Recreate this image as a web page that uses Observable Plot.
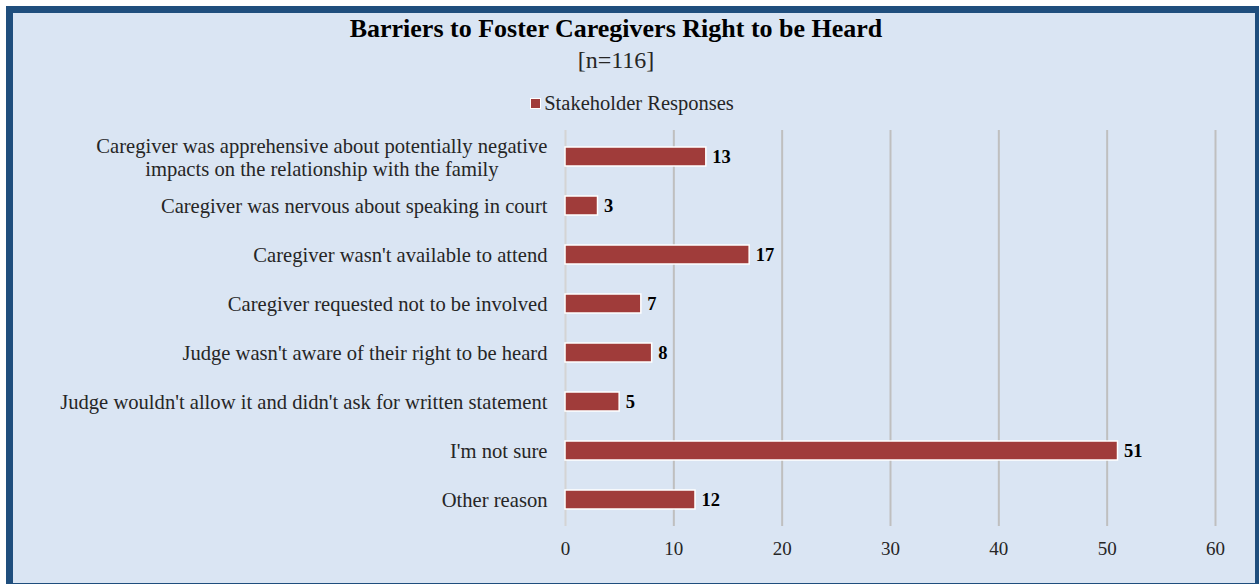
<!DOCTYPE html>
<html>
<head>
<meta charset="utf-8">
<script src="https://cdn.jsdelivr.net/npm/d3@7"></script>
<script src="https://cdn.jsdelivr.net/npm/@observablehq/plot@0.6"></script>
<style>
  html, body { margin: 0; padding: 0; background: #ffffff; overflow: hidden; width: 1259px; height: 584px; }
  #frame {
    position: absolute; left: 6px; top: 6px; width: 1242px; height: 570px;
    border: 7px solid #1f4e7d; background: #dae5f3;
    font-family: "Liberation Serif", "DejaVu Serif", serif; color: #1a1a1a;
  }
  .title { position: absolute; left: 0; width: 1206px; top: 1px; height: 30px; line-height: 30px; text-align: center; font-weight: bold; font-size: 26px; color: #000; }
  .subtitle { position: absolute; left: 0; width: 1206px; top: 33px; height: 28px; line-height: 28px; text-align: center; font-size: 24px; color: #262626; }
  .legend { position: absolute; left: 0; width: 1238px; top: 78px; height: 24px; display: flex; justify-content: center; align-items: center; font-size: 20.5px; color: #262626; }
  .legend .sw { width: 9px; height: 9px; background: #a03c3a; border: 1px solid #fff; margin-right: 3px; }
  #chart { position: absolute; left: 0; top: 107px; }
</style>
</head>
<body>
<div id="frame">
  <div class="title">Barriers to Foster Caregivers Right to be Heard</div>
  <div class="subtitle">[n=116]</div>
  <div class="legend"><span class="sw"></span><span>Stakeholder Responses</span></div>
  <div id="chart"></div>
</div>
<script>
const categories = [
  "Caregiver was apprehensive about potentially negative\nimpacts on the relationship with the family",
  "Caregiver was nervous about speaking in court",
  "Caregiver wasn't available to attend",
  "Caregiver requested not to be involved",
  "Judge wasn't aware of their right to be heard",
  "Judge wouldn't allow it and didn't ask for written statement",
  "I'm not sure",
  "Other reason"
];
const values = [13, 3, 17, 7, 8, 5, 51, 12];
const xTicks = [0, 10, 20, 30, 40, 50, 60];
const seriesName = "Stakeholder Responses";

const data = categories.map((c, i) => ({category: c, value: values[i], series: seriesName}));

const chart = Plot.plot({
  width: 1242,
  height: 463,
  marginTop: 10,
  marginBottom: 57,
  marginLeft: 552,
  marginRight: 40,
  style: {background: "transparent", fontFamily: "'Liberation Serif', serif", fontSize: "20px", color: "#262626"},
  x: {domain: [0, 60], label: null},
  y: {domain: categories, label: null, paddingInner: 0.62, paddingOuter: 0.31},
  marks: [
    Plot.ruleX(xTicks, {stroke: d => d === 0 ? "#d4d4d4" : "#bfbfbf", strokeWidth: 2}),
    Plot.barX(data, {x: "value", y: "category", fill: "#a03c3a", stroke: "#ffffff", strokeWidth: 1.5}),
    Plot.text(data, {x: "value", y: "category", text: d => String(d.value), dx: 6, textAnchor: "start", fontWeight: "bold", fontSize: 18.5, fill: "#000"}),
    Plot.axisX({ticks: xTicks, tickSize: 0, tickPadding: 15, label: null, fontSize: 19}),
    Plot.axisY({tickSize: 0, tickPadding: 18, label: null, lineHeight: 1.12, fontSize: 20.6})
  ]
});
document.getElementById("chart").appendChild(chart);

// center multi-line category labels (as in the original)
chart.querySelectorAll("[aria-label='y-axis tick label'] text").forEach(t => {
  const spans = t.querySelectorAll("tspan");
  if (spans.length > 1) {
    let maxW = 0;
    spans.forEach(s => { maxW = Math.max(maxW, s.getComputedTextLength()); });
    t.setAttribute("text-anchor", "middle");
    spans.forEach(s => s.setAttribute("x", -maxW / 2));
  }
});
</script>
</body>
</html>
